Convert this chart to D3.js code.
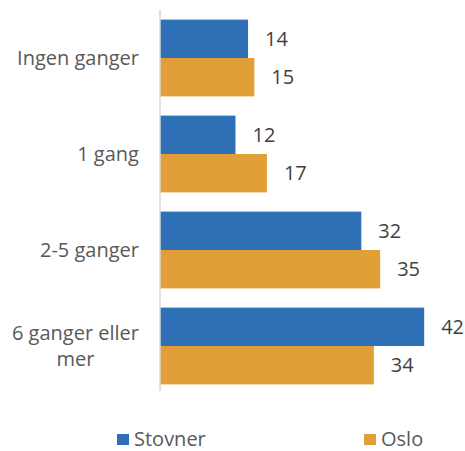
<!DOCTYPE html>
<meta charset="utf-8">
<style>
body { margin: 0; background: #fff; }
text { font-family: "Open Sans", sans-serif; }
</style>
<svg width="465" height="451"></svg>
<script src="https://cdn.jsdelivr.net/npm/d3@7"></script>
<script>

var categories = ["Ingen ganger", "1 gang", "2-5 ganger", "6 ganger eller mer"];
var categoryLines = [["Ingen ganger"], ["1 gang"], ["2-5 ganger"], ["6 ganger eller", "mer"]];
var seriesNames = ["Stovner", "Oslo"];
var stovner = [14, 12, 32, 42];
var oslo = [15, 17, 35, 34];
var colors = ["#2e6fb5", "#e0a037"];

var svg = d3.select("svg");
var fontSize = "20px";

var x = d3.scaleLinear()
    .domain([0, 50])
    .range([160, 474.5]);

var y = d3.scaleBand()
    .domain(categories)
    .range([10, 394])
    .paddingInner(0.2)
    .paddingOuter(0.1);

var y1 = d3.scaleBand()
    .domain(seriesNames)
    .range([0, y.bandwidth()]);

var rows = categories.map(function(c, i) {
  return {cat: c, lines: categoryLines[i], values: [stovner[i], oslo[i]]};
});

var group = svg.append("g")
  .selectAll("g")
  .data(rows)
  .enter().append("g")
    .attr("transform", function(d) { return "translate(0," + y(d.cat) + ")"; });

var bar = group.selectAll("g")
  .data(function(d) { return d.values.map(function(v, j) { return {name: seriesNames[j], value: v, j: j}; }); })
  .enter().append("g");

bar.append("rect")
    .attr("x", x(0))
    .attr("y", function(d) { return y1(d.name); })
    .attr("width", function(d) { return x(d.value) - x(0); })
    .attr("height", y1.bandwidth())
    .attr("fill", function(d) { return colors[d.j]; });

bar.append("text")
    .attr("x", function(d) { return x(d.value) + 17; })
    .attr("y", function(d) { return y1(d.name) + y1.bandwidth() / 2; })
    .attr("dy", "0.36em")
    .attr("fill", "#404040")
    .style("font-size", fontSize)
    .text(function(d) { return d.value; });

// category labels, wrapped lines centred within a right-aligned block
group.each(function(d) {
  var g = d3.select(this);
  var lh = 26;
  var t = g.append("text")
      .attr("fill", "#595959")
      .style("font-size", fontSize);
  var n = d.lines.length;
  d.lines.forEach(function(line, k) {
    t.append("tspan")
        .attr("x", 0)
        .attr("y", y.bandwidth() / 2 + (k - (n - 1) / 2) * lh)
        .attr("dy", "0.36em")
        .attr("text-anchor", "middle")
        .text(line);
  });
  var w = t.node().getBBox().width;
  t.attr("transform", "translate(" + (139 - w / 2) + ",0)");
});

svg.append("line")
    .attr("x1", x(0))
    .attr("x2", x(0))
    .attr("y1", 10)
    .attr("y2", 391)
    .attr("stroke", "#d9d9d9")
    .attr("stroke-width", 1.5);

var legendX = [117, 364];
var legend = svg.append("g")
  .selectAll("g")
  .data(seriesNames)
  .enter().append("g")
    .attr("transform", function(d, i) { return "translate(" + legendX[i] + ",434)"; });

legend.append("rect")
    .attr("width", 12)
    .attr("height", 11)
    .attr("fill", function(d, i) { return colors[i]; });

legend.append("text")
    .attr("x", 17)
    .attr("y", 11.5)
    .attr("fill", "#595959")
    .style("font-size", fontSize)
    .text(function(d) { return d; });

</script>
